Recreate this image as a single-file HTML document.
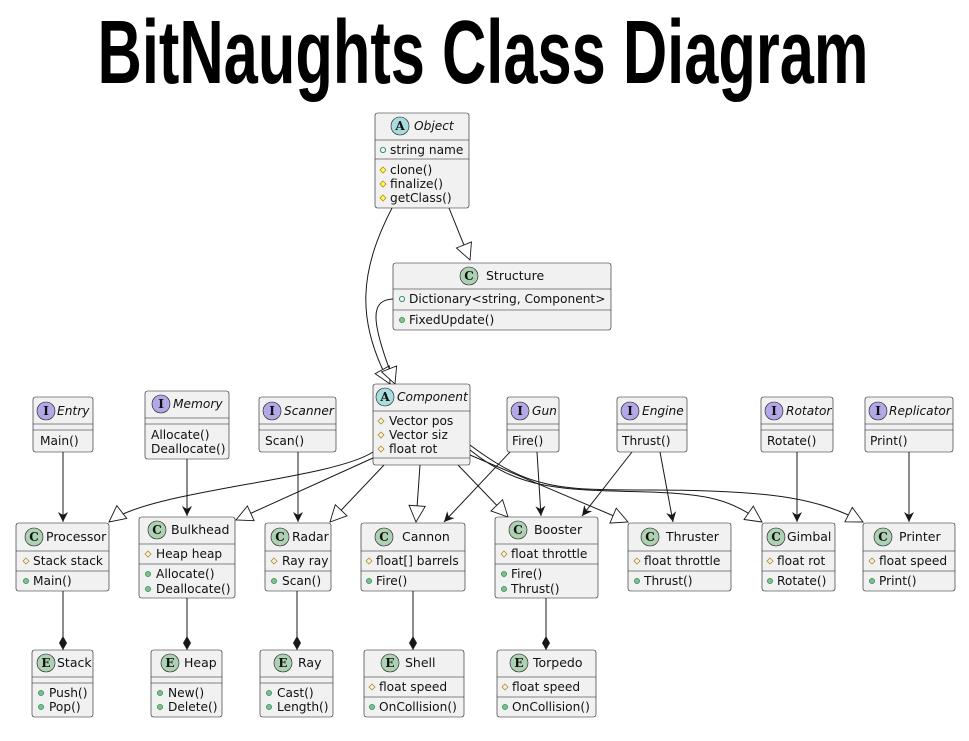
<!DOCTYPE html>
<html><head><meta charset="utf-8"><style>
html,body{margin:0;padding:0;background:#fff;}
svg{display:block;}
text{font-family:"DejaVu Sans","Liberation Sans",sans-serif;font-size:12.2px;fill:#111;}
.b{fill:#f1f1f1;stroke:#181818;stroke-width:0.6;}
.d{stroke:#181818;stroke-width:0.6;}
.e{fill:none;stroke:#181818;stroke-width:1;}
.n{font-size:12.5px;}
.i{font-style:italic;}
.L{font-family:"DejaVu Serif","Liberation Serif",serif;font-weight:bold;font-size:12px;}
</style></head><body>
<svg width="969" height="741" viewBox="0 0 969 741" xmlns="http://www.w3.org/2000/svg">
<defs>
<marker id="tri" viewBox="0 0 20 20" refX="19" refY="10" markerWidth="18" markerHeight="18" markerUnits="userSpaceOnUse" orient="auto"><path d="M1,1 L19,10 L1,19 Z" fill="#fff" stroke="#181818" stroke-width="1"/></marker>
<marker id="arr" viewBox="0 0 12 12" refX="11" refY="6" markerWidth="12" markerHeight="12" markerUnits="userSpaceOnUse" orient="auto"><path d="M1,1 L11,6 L1,11 L4,6 Z" fill="#181818"/></marker>
<marker id="dia" viewBox="0 0 16 10" refX="15" refY="5" markerWidth="16" markerHeight="10" markerUnits="userSpaceOnUse" orient="auto"><path d="M1,5 L8,1 L15,5 L8,9 Z" fill="#181818"/></marker>
<g id="pub"><circle r="2.6" fill="#84be84" stroke="#038048" stroke-width="0.6"/></g>
<g id="pubo"><circle r="2.6" fill="none" stroke="#038048" stroke-width="0.8"/></g>
<g id="pro"><path d="M0,-3 L3,0 L0,3 L-3,0 Z" fill="none" stroke="#b38d22" stroke-width="0.8"/></g>
<g id="proy"><path d="M0,-3 L3,0 L0,3 L-3,0 Z" fill="#ffff44" stroke="#b38d22" stroke-width="0.8"/></g>
</defs>

<text x="483" y="83" text-anchor="middle" textLength="771" lengthAdjust="spacingAndGlyphs" style="font-family:'Liberation Sans Narrow','Liberation Sans',sans-serif;font-weight:bold;font-size:90px;fill:#000">BitNaughts Class Diagram</text>

<!-- edges -->
<path class="e" d="M449,208 L470,260" marker-end="url(#tri)"/>
<path class="e" d="M392,208 C360,270 355,320 390,384" marker-end="url(#tri)"/>
<path class="e" d="M393,299 C370,300 370,320 395,384" marker-end="url(#tri)"/>
<path class="e" d="M373,452 C330,480 150,490 109,522" marker-end="url(#tri)"/>
<path class="e" d="M373,458 L236,520" marker-end="url(#tri)"/>
<path class="e" d="M384,465 L330,522" marker-end="url(#tri)"/>
<path class="e" d="M420,465 L416,522" marker-end="url(#tri)"/>
<path class="e" d="M458,465 L508,517" marker-end="url(#tri)"/>
<path class="e" d="M470,455 L628,522" marker-end="url(#tri)"/>
<path class="e" d="M470,450 C520,490 560,490 650,492 C710,494 730,500 762,522" marker-end="url(#tri)"/>
<path class="e" d="M470,445 C530,490 560,490 650,490 C780,490 820,500 863,522" marker-end="url(#tri)"/>

<path class="e" d="M63,452 L63,522" marker-end="url(#arr)"/>
<path class="e" d="M187,459 L187,516" marker-end="url(#arr)"/>
<path class="e" d="M298,452 L298,522" marker-end="url(#arr)"/>
<path class="e" d="M510,452 L444,522" marker-end="url(#arr)"/>
<path class="e" d="M537,452 L541,516" marker-end="url(#arr)"/>
<path class="e" d="M632,452 L582,516" marker-end="url(#arr)"/>
<path class="e" d="M660,452 L673,522" marker-end="url(#arr)"/>
<path class="e" d="M797,452 L797,522" marker-end="url(#arr)"/>
<path class="e" d="M909,452 L909,522" marker-end="url(#arr)"/>
<path class="e" d="M63,591 L63,650" marker-end="url(#dia)"/>
<path class="e" d="M187,598 L187,650" marker-end="url(#dia)"/>
<path class="e" d="M297,591 L297,650" marker-end="url(#dia)"/>
<path class="e" d="M413,591 L413,650" marker-end="url(#dia)"/>
<path class="e" d="M546,598 L546,650" marker-end="url(#dia)"/>

<!-- Object -->
<rect class="b" x="375" y="113" width="94" height="95" rx="2.5"/>
<circle cx="400" cy="126" r="9" fill="#a9dcdf" stroke="#181818" stroke-width="0.6"/><text class="L" x="400" y="130" text-anchor="middle">A</text>
<text class="i" x="414" y="130">Object</text>
<line class="d" x1="375" y1="140" x2="469" y2="140"/>
<use href="#pubo" x="383" y="150"/><text x="390" y="154">string name</text>
<line class="d" x1="375" y1="159" x2="469" y2="159"/>
<use href="#proy" x="383" y="170"/><text x="390" y="174">clone()</text>
<use href="#proy" x="383" y="184"/><text x="390" y="188">finalize()</text>
<use href="#proy" x="383" y="198"/><text x="390" y="202">getClass()</text>

<!-- Structure -->
<rect class="b" x="393" y="263" width="218" height="67" rx="2.5"/>
<circle cx="469" cy="276" r="9" fill="#add1b2" stroke="#181818" stroke-width="0.6"/><text class="L" x="469" y="280" text-anchor="middle">C</text>
<text class="n" x="486" y="280">Structure</text>
<line class="d" x1="393" y1="289" x2="611" y2="289"/>
<use href="#pubo" x="402" y="299"/><text x="409" y="303">Dictionary&lt;string, Component&gt;</text>
<line class="d" x1="393" y1="310" x2="611" y2="310"/>
<use href="#pub" x="402" y="320"/><text x="409" y="324">FixedUpdate()</text>

<!-- Component -->
<rect class="b" x="373" y="384" width="97" height="81" rx="2.5"/>
<circle cx="385" cy="397" r="9" fill="#a9dcdf" stroke="#181818" stroke-width="0.6"/><text class="L" x="385" y="401" text-anchor="middle">A</text>
<text class="i" x="397" y="401">Component</text>
<line class="d" x1="373" y1="411" x2="470" y2="411"/>
<use href="#pro" x="381" y="421"/><text x="389" y="425">Vector pos</text>
<use href="#pro" x="381" y="435"/><text x="389" y="439">Vector siz</text>
<use href="#pro" x="381" y="449"/><text x="389" y="453">float rot</text>
<line class="d" x1="373" y1="458" x2="470" y2="458"/>

<!-- interfaces -->
<g>
<rect class="b" x="33" y="397" width="60" height="55" rx="2.5"/>
<circle cx="46" cy="411" r="9" fill="#b4a7e5" stroke="#181818" stroke-width="0.6"/><text class="L" x="46" y="415" text-anchor="middle">I</text>
<text class="i" x="57" y="415">Entry</text>
<line class="d" x1="33" y1="424" x2="93" y2="424"/><line class="d" x1="33" y1="430" x2="93" y2="430"/>
<text x="40" y="445">Main()</text>
</g>
<g>
<rect class="b" x="145" y="391" width="84" height="68" rx="2.5"/>
<circle cx="161" cy="404" r="9" fill="#b4a7e5" stroke="#181818" stroke-width="0.6"/><text class="L" x="161" y="408" text-anchor="middle">I</text>
<text class="i" x="173" y="408">Memory</text>
<line class="d" x1="145" y1="418" x2="229" y2="418"/><line class="d" x1="145" y1="424" x2="229" y2="424"/>
<text x="151" y="439">Allocate()</text><text x="151" y="453">Deallocate()</text>
</g>
<g>
<rect class="b" x="259" y="397" width="77" height="55" rx="2.5"/>
<circle cx="272" cy="411" r="9" fill="#b4a7e5" stroke="#181818" stroke-width="0.6"/><text class="L" x="272" y="415" text-anchor="middle">I</text>
<text class="i" x="284" y="415">Scanner</text>
<line class="d" x1="259" y1="424" x2="336" y2="424"/><line class="d" x1="259" y1="430" x2="336" y2="430"/>
<text x="265" y="445">Scan()</text>
</g>
<g>
<rect class="b" x="507" y="397" width="52" height="55" rx="2.5"/>
<circle cx="520" cy="411" r="9" fill="#b4a7e5" stroke="#181818" stroke-width="0.6"/><text class="L" x="520" y="415" text-anchor="middle">I</text>
<text class="i" x="532" y="415">Gun</text>
<line class="d" x1="507" y1="424" x2="559" y2="424"/><line class="d" x1="507" y1="430" x2="559" y2="430"/>
<text x="512" y="445">Fire()</text>
</g>
<g>
<rect class="b" x="617" y="397" width="70" height="55" rx="2.5"/>
<circle cx="630" cy="411" r="9" fill="#b4a7e5" stroke="#181818" stroke-width="0.6"/><text class="L" x="630" y="415" text-anchor="middle">I</text>
<text class="i" x="642" y="415">Engine</text>
<line class="d" x1="617" y1="424" x2="687" y2="424"/><line class="d" x1="617" y1="430" x2="687" y2="430"/>
<text x="622" y="445">Thrust()</text>
</g>
<g>
<rect class="b" x="761" y="397" width="72" height="55" rx="2.5"/>
<circle cx="774" cy="411" r="9" fill="#b4a7e5" stroke="#181818" stroke-width="0.6"/><text class="L" x="774" y="415" text-anchor="middle">I</text>
<text class="i" x="786" y="415">Rotator</text>
<line class="d" x1="761" y1="424" x2="833" y2="424"/><line class="d" x1="761" y1="430" x2="833" y2="430"/>
<text x="767" y="445">Rotate()</text>
</g>
<g>
<rect class="b" x="865" y="397" width="88" height="55" rx="2.5"/>
<circle cx="878" cy="411" r="9" fill="#b4a7e5" stroke="#181818" stroke-width="0.6"/><text class="L" x="878" y="415" text-anchor="middle">I</text>
<text class="i" x="889" y="415">Replicator</text>
<line class="d" x1="865" y1="424" x2="953" y2="424"/><line class="d" x1="865" y1="430" x2="953" y2="430"/>
<text x="870" y="445">Print()</text>
</g>

<!-- classes row -->
<g>
<rect class="b" x="16" y="523" width="93" height="68" rx="2.5"/>
<circle cx="34" cy="537" r="9" fill="#add1b2" stroke="#181818" stroke-width="0.6"/><text class="L" x="34" y="541" text-anchor="middle">C</text>
<text class="n" x="46" y="541">Processor</text>
<line class="d" x1="16" y1="551" x2="109" y2="551"/>
<use href="#pro" x="26" y="561"/><text x="33" y="565">Stack stack</text>
<line class="d" x1="16" y1="571" x2="109" y2="571"/>
<use href="#pub" x="26" y="581"/><text x="33" y="585">Main()</text>
</g>
<g>
<rect class="b" x="139" y="517" width="96" height="81" rx="2.5"/>
<circle cx="157" cy="530" r="9" fill="#add1b2" stroke="#181818" stroke-width="0.6"/><text class="L" x="157" y="534" text-anchor="middle">C</text>
<text class="n" x="171" y="534">Bulkhead</text>
<line class="d" x1="139" y1="544" x2="235" y2="544"/>
<use href="#pro" x="148" y="554"/><text x="156" y="558">Heap heap</text>
<line class="d" x1="139" y1="564" x2="235" y2="564"/>
<use href="#pub" x="148" y="574"/><text x="156" y="578">Allocate()</text>
<use href="#pub" x="148" y="589"/><text x="156" y="593">Deallocate()</text>
</g>
<g>
<rect class="b" x="265" y="523" width="66" height="68" rx="2.5"/>
<circle cx="280" cy="537" r="9" fill="#add1b2" stroke="#181818" stroke-width="0.6"/><text class="L" x="280" y="541" text-anchor="middle">C</text>
<text class="n" x="292" y="541">Radar</text>
<line class="d" x1="265" y1="551" x2="331" y2="551"/>
<use href="#pro" x="274" y="561"/><text x="282" y="565">Ray ray</text>
<line class="d" x1="265" y1="571" x2="331" y2="571"/>
<use href="#pub" x="274" y="581"/><text x="282" y="585">Scan()</text>
</g>
<g>
<rect class="b" x="361" y="523" width="104" height="68" rx="2.5"/>
<circle cx="384" cy="537" r="9" fill="#add1b2" stroke="#181818" stroke-width="0.6"/><text class="L" x="384" y="541" text-anchor="middle">C</text>
<text class="n" x="402" y="541">Cannon</text>
<line class="d" x1="361" y1="551" x2="465" y2="551"/>
<use href="#pro" x="369" y="561"/><text x="376" y="565">float[] barrels</text>
<line class="d" x1="361" y1="571" x2="465" y2="571"/>
<use href="#pub" x="369" y="581"/><text x="376" y="585">Fire()</text>
</g>
<g>
<rect class="b" x="495" y="517" width="103" height="81" rx="2.5"/>
<circle cx="518" cy="530" r="9" fill="#add1b2" stroke="#181818" stroke-width="0.6"/><text class="L" x="518" y="534" text-anchor="middle">C</text>
<text class="n" x="534" y="534">Booster</text>
<line class="d" x1="495" y1="544" x2="598" y2="544"/>
<use href="#pro" x="504" y="554"/><text x="511" y="558">float throttle</text>
<line class="d" x1="495" y1="564" x2="598" y2="564"/>
<use href="#pub" x="504" y="574"/><text x="511" y="578">Fire()</text>
<use href="#pub" x="504" y="589"/><text x="511" y="593">Thrust()</text>
</g>
<g>
<rect class="b" x="628" y="523" width="103" height="68" rx="2.5"/>
<circle cx="650" cy="537" r="9" fill="#add1b2" stroke="#181818" stroke-width="0.6"/><text class="L" x="650" y="541" text-anchor="middle">C</text>
<text class="n" x="666" y="541">Thruster</text>
<line class="d" x1="628" y1="551" x2="731" y2="551"/>
<use href="#pro" x="637" y="561"/><text x="644" y="565">float throttle</text>
<line class="d" x1="628" y1="571" x2="731" y2="571"/>
<use href="#pub" x="637" y="581"/><text x="644" y="585">Thrust()</text>
</g>
<g>
<rect class="b" x="762" y="523" width="73" height="68" rx="2.5"/>
<circle cx="776" cy="537" r="9" fill="#add1b2" stroke="#181818" stroke-width="0.6"/><text class="L" x="776" y="541" text-anchor="middle">C</text>
<text class="n" x="787" y="541">Gimbal</text>
<line class="d" x1="762" y1="551" x2="835" y2="551"/>
<use href="#pro" x="770" y="561"/><text x="777" y="565">float rot</text>
<line class="d" x1="762" y1="571" x2="835" y2="571"/>
<use href="#pub" x="770" y="581"/><text x="777" y="585">Rotate()</text>
</g>
<g>
<rect class="b" x="863" y="523" width="92" height="68" rx="2.5"/>
<circle cx="883" cy="537" r="9" fill="#add1b2" stroke="#181818" stroke-width="0.6"/><text class="L" x="883" y="541" text-anchor="middle">C</text>
<text class="n" x="899" y="541">Printer</text>
<line class="d" x1="863" y1="551" x2="955" y2="551"/>
<use href="#pro" x="872" y="561"/><text x="879" y="565">float speed</text>
<line class="d" x1="863" y1="571" x2="955" y2="571"/>
<use href="#pub" x="872" y="581"/><text x="879" y="585">Print()</text>
</g>

<!-- enums -->
<g>
<rect class="b" x="32" y="650" width="61" height="67" rx="2.5"/>
<circle cx="46" cy="663" r="9" fill="#add1b2" stroke="#181818" stroke-width="0.6"/><text class="L" x="46" y="667" text-anchor="middle">E</text>
<text class="n" x="57" y="667">Stack</text>
<line class="d" x1="32" y1="677" x2="93" y2="677"/><line class="d" x1="32" y1="683" x2="93" y2="683"/>
<use href="#pub" x="41" y="693"/><text x="49" y="697">Push()</text>
<use href="#pub" x="41" y="707"/><text x="49" y="711">Pop()</text>
</g>
<g>
<rect class="b" x="151" y="650" width="71" height="67" rx="2.5"/>
<circle cx="170" cy="663" r="9" fill="#add1b2" stroke="#181818" stroke-width="0.6"/><text class="L" x="170" y="667" text-anchor="middle">E</text>
<text class="n" x="184" y="667">Heap</text>
<line class="d" x1="151" y1="677" x2="222" y2="677"/><line class="d" x1="151" y1="683" x2="222" y2="683"/>
<use href="#pub" x="160" y="693"/><text x="168" y="697">New()</text>
<use href="#pub" x="160" y="707"/><text x="168" y="711">Delete()</text>
</g>
<g>
<rect class="b" x="260" y="650" width="73" height="67" rx="2.5"/>
<circle cx="283" cy="663" r="9" fill="#add1b2" stroke="#181818" stroke-width="0.6"/><text class="L" x="283" y="667" text-anchor="middle">E</text>
<text class="n" x="298" y="667">Ray</text>
<line class="d" x1="260" y1="677" x2="333" y2="677"/><line class="d" x1="260" y1="683" x2="333" y2="683"/>
<use href="#pub" x="269" y="693"/><text x="277" y="697">Cast()</text>
<use href="#pub" x="269" y="707"/><text x="277" y="711">Length()</text>
</g>
<g>
<rect class="b" x="364" y="650" width="100" height="67" rx="2.5"/>
<circle cx="390" cy="663" r="9" fill="#add1b2" stroke="#181818" stroke-width="0.6"/><text class="L" x="390" y="667" text-anchor="middle">E</text>
<text class="n" x="405" y="667">Shell</text>
<line class="d" x1="364" y1="677" x2="464" y2="677"/>
<use href="#pro" x="372" y="687"/><text x="379" y="691">float speed</text>
<line class="d" x1="364" y1="697" x2="464" y2="697"/>
<use href="#pub" x="372" y="707"/><text x="379" y="711">OnCollision()</text>
</g>
<g>
<rect class="b" x="497" y="650" width="99" height="67" rx="2.5"/>
<circle cx="519" cy="663" r="9" fill="#add1b2" stroke="#181818" stroke-width="0.6"/><text class="L" x="519" y="667" text-anchor="middle">E</text>
<text class="n" x="533" y="667">Torpedo</text>
<line class="d" x1="497" y1="677" x2="596" y2="677"/>
<use href="#pro" x="505" y="687"/><text x="512" y="691">float speed</text>
<line class="d" x1="497" y1="697" x2="596" y2="697"/>
<use href="#pub" x="505" y="707"/><text x="512" y="711">OnCollision()</text>
</g>
</svg>
</body></html>
